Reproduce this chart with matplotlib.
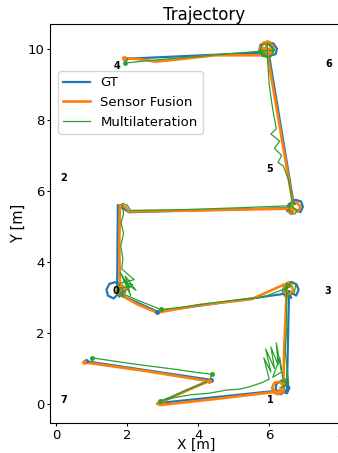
import matplotlib
matplotlib.use("Agg")
import matplotlib.pyplot as plt

# anchors
anchor_ids = ["0", "1", "2", "3", "4", "5", "6", "7"]
anchor_x = [1.69, 6.03, 0.22, 7.66, 1.72, 6.0, 7.69, 0.22]
anchor_y = [3.18, 0.11, 6.37, 3.18, 9.52, 6.62, 9.58, 0.11]

# ground truth path
gt_x = [0.85, 4.35, 2.85, 6.3,
        6.5, 6.57, 6.5, 6.35, 6.2, 6.18, 6.33, 6.5,
        6.56,
        6.76, 6.83, 6.76, 6.6, 6.44, 6.38, 6.46, 6.62, 6.56,
        2.85, 1.75,
        1.62, 1.46, 1.42, 1.5, 1.66, 1.83, 1.88, 1.78, 1.72,
        1.74, 2.05, 6.65,
        6.88, 6.95, 6.9, 6.74, 6.55, 6.5, 6.6, 6.68,
        6.0,
        6.18, 6.22, 6.12, 5.95, 5.76, 5.72, 5.82, 5.97, 5.9,
        1.95]
gt_y = [1.2, 0.68, 0.02, 0.38,
        0.3, 0.45, 0.6, 0.66, 0.56, 0.38, 0.27, 0.4,
        3.18,
        3.05, 3.22, 3.38, 3.43, 3.34, 3.18, 3.03, 2.99, 3.12,
        2.6, 3.1,
        2.97, 3.05, 3.22, 3.38, 3.43, 3.35, 3.18, 3.02, 3.2,
        5.6, 5.4, 5.52,
        5.4, 5.55, 5.7, 5.75, 5.62, 5.45, 5.36, 5.7,
        9.8,
        9.85, 10.0, 10.15, 10.2, 10.12, 9.95, 9.8, 9.78, 9.9,
        9.72]
gt_marks = [0, 1, 22, len(gt_x) - 1]

# sensor fusion path
sf_x = [0.8, 2.5, 4.3, 3.6, 2.85, 2.95, 4.5, 6.1,
        6.25, 6.4, 6.42, 6.3, 6.15, 6.08, 6.2, 6.4,
        6.42, 6.5,
        6.62, 6.68, 6.55, 6.42, 6.45, 6.55,
        5.5, 4.0, 2.85, 2.3, 1.85,
        1.93, 1.95, 1.85, 1.72, 1.72, 1.82, 1.8,
        1.78, 1.8, 1.95, 2.05, 4.0, 6.6,
        6.82, 6.88, 6.78, 6.62, 6.55, 6.65, 6.65,
        6.35, 5.95,
        6.1, 6.12, 6.0, 5.85, 5.75, 5.8, 5.95, 6.1, 5.75, 5.93, 5.93, 5.9,
        4.5, 3.4, 2.8, 2.4, 1.9]
sf_y = [1.17, 0.93, 0.64, 0.34, 0.0, -0.03, 0.14, 0.33,
        0.27, 0.34, 0.5, 0.62, 0.6, 0.45, 0.32, 0.42,
        1.5, 3.3,
        3.35, 3.2, 3.07, 3.15, 3.3, 3.42,
        2.95, 2.78, 2.57, 2.8, 3.05,
        3.1, 3.25, 3.35, 3.28, 3.12, 3.08, 3.2,
        4.5, 5.6, 5.55, 5.42, 5.45, 5.5,
        5.42, 5.55, 5.68, 5.6, 5.42, 5.35, 5.75,
        7.5, 9.85,
        9.9, 10.05, 10.2, 10.18, 10.0, 9.85, 9.8, 10.0, 10.0, 10.0, 10.2, 9.82,
        9.82, 9.7, 9.64, 9.7, 9.74]
sf_marks = [0, 2, len(sf_x) - 1]

# multilateration path
ml_x = [1.0, 1.8, 2.6, 3.4, 4.0, 4.38, 4.33, 3.7, 3.2, 2.92,
        3.3, 3.8, 4.3, 4.8, 5.2, 5.5, 5.8, 6.0,
        5.85, 6.05, 5.9, 6.15, 6.05, 6.25, 6.2, 6.35, 6.1, 6.3, 6.4, 6.5,
        6.45, 6.3, 6.55, 6.45, 6.5, 6.48, 6.5,
        6.65, 6.75, 6.7, 6.55, 6.45, 6.5, 6.6,
        5.8, 5.0, 4.2, 3.5, 2.95, 2.3, 2.0, 1.85,
        2.15, 1.9, 2.25, 1.95, 2.1, 1.8, 2.05, 1.75, 1.9, 1.7, 1.8, 2.2, 1.85,
        1.88, 1.82, 1.9, 1.83, 1.9, 1.86, 2.0, 2.1,
        3.5, 5.0, 6.6,
        6.8, 6.72, 6.55, 6.6, 6.75, 6.65,
        6.55, 6.4, 6.25, 6.35, 6.15, 6.3, 6.05, 6.2, 6.1, 6.0, 5.95,
        5.75, 5.8, 6.0, 6.15, 6.05, 5.8, 5.75, 6.15, 5.95, 5.95, 5.7,
        4.5, 3.3, 2.5, 1.95]
ml_y = [1.3, 1.18, 1.07, 0.97, 0.88, 0.84, 0.66, 0.4, 0.17, 0.08,
        0.17, 0.26, 0.3, 0.39, 0.42, 0.5, 0.6, 0.7,
        1.3, 0.9, 1.55, 1.0, 1.6, 1.1, 1.72, 0.9, 0.75, 1.3, 0.6, 0.75,
        0.5, 0.45, 0.58, 1.5, 2.2, 2.8, 3.3,
        3.45, 3.35, 3.1, 3.05, 3.2, 3.4, 3.3,
        3.0, 2.92, 2.82, 2.72, 2.66, 2.92, 3.05, 3.1,
        3.35, 3.45, 3.2, 3.6, 3.05, 3.72, 3.3, 3.25, 3.0, 3.15, 3.4, 3.5, 3.8,
        4.1, 4.45, 4.8, 5.1, 5.35, 5.65, 5.6, 5.45,
        5.47, 5.52, 5.58,
        5.45, 5.35, 5.45, 5.65, 5.62, 5.7,
        6.3, 6.7, 6.8, 7.0, 7.2, 7.4, 7.6, 7.75, 8.3, 9.0, 9.8,
        9.95, 10.12, 10.15, 9.98, 9.78, 9.8, 9.95, 9.95, 10.15, 9.75, 9.93,
        9.83, 9.73, 9.66, 9.6]
ml_marks = [0, 5, 9, 48, len(ml_x) - 1]

fig = plt.figure(figsize=(3.38, 4.53), dpi=100)
ax = fig.add_axes([0.148, 0.066, 0.911, 0.881])

# lines
ax.plot(gt_x, gt_y, color="tab:blue", lw=1.6, label="GT")
ax.plot(sf_x, sf_y, color="tab:orange", lw=1.9, label="Sensor Fusion")
ax.plot(ml_x, ml_y, color="tab:green", lw=0.9, label="Multilateration")

# small dots at segment ends
ax.plot([gt_x[i] for i in gt_marks], [gt_y[i] for i in gt_marks],
        "o", color="tab:blue", ms=2.5)
ax.plot([sf_x[i] for i in sf_marks], [sf_y[i] for i in sf_marks],
        "o", color="tab:orange", ms=2.5)
ax.plot([ml_x[i] for i in ml_marks], [ml_y[i] for i in ml_marks],
        "o", color="tab:green", ms=2.5)

for name, x, y in zip(anchor_ids, anchor_x, anchor_y):
    ax.text(x, y, name, fontsize=7, fontweight="bold",
            ha="center", va="center")

ax.set_xlim(-0.17, 8.5)
ax.set_ylim(-0.54, 10.7)
ax.set_xticks([0, 2, 4, 6, 8])
ax.set_yticks([0, 2, 4, 6, 8, 10])
ax.tick_params(labelsize=9.5, length=2.5, pad=1.5)
ax.set_xlabel("X [m]", fontsize=10)
ax.set_ylabel("Y [m]", fontsize=10.5)
ax.xaxis.set_label_coords(0.474, -0.038)
ax.yaxis.set_label_coords(-0.078, 0.5)
ax.set_title("Trajectory", fontsize=12, pad=3)

ax.legend(loc="upper left", bbox_to_anchor=(0.172, 0.843),
          bbox_transform=fig.transFigure, fontsize=9.5, borderaxespad=0)

fig.savefig("out.png", dpi=100)
